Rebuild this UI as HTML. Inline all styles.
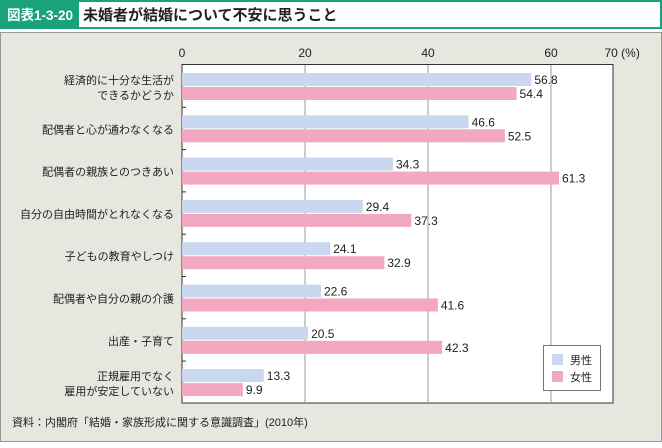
<!DOCTYPE html>
<html><head><meta charset="utf-8"><style>
body{margin:0;width:662px;height:443px;overflow:hidden;background:#fff;font-family:"Liberation Sans","Noto Sans CJK JP",sans-serif}
</style></head><body>
<svg width="662" height="443" xmlns="http://www.w3.org/2000/svg" font-family="Liberation Sans, Noto Sans CJK JP, sans-serif">
<rect x="1" y="1" width="660" height="27" fill="#fff" stroke="#1aa37a" stroke-width="2"/>
<rect x="0" y="0" width="79" height="29" fill="#1aa37a"/>
<text x="7" y="20" fill="#fff" font-size="14" font-weight="bold" textLength="66" lengthAdjust="spacingAndGlyphs">図表1-3-20</text>
<text x="83" y="20" fill="#222" font-size="15" font-weight="bold">未婚者が結婚について不安に思うこと</text>
<rect x="0.5" y="32.5" width="661" height="409" fill="#e7e6df" stroke="#999"/>
<rect x="182" y="64.5" width="431" height="338.5" fill="#fff" stroke="#333"/>
<g id="grid"></g>
<g id="bars"></g>
<g id="legend">
<rect x="543.5" y="345.5" width="57" height="45" fill="#fff" stroke="#777"/>
<rect x="552" y="354" width="11" height="11" fill="#c9d8ee"/>
<text x="570" y="364" font-size="11" fill="#222">男性</text>
<rect x="552" y="371" width="11" height="11" fill="#f2a8c1"/>
<text x="570" y="381" font-size="11" fill="#222">女性</text>
</g>
<text x="12" y="426" font-size="11" fill="#222">資料：内閣府「結婚・家族形成に関する意識調査」(2010年)</text>
</svg>
<script>
const categories=[["経済的に十分な生活が","できるかどうか"],["配偶者と心が通わなくなる"],["配偶者の親族とのつきあい"],["自分の自由時間がとれなくなる"],["子どもの教育やしつけ"],["配偶者や自分の親の介護"],["出産・子育て"],["正規雇用でなく","雇用が安定していない"]];
const maleValues=[56.8,46.6,34.3,29.4,24.1,22.6,20.5,13.3];
const femaleValues=[54.4,52.5,61.3,37.3,32.9,41.6,42.3,9.9];
const tickValues=[0,20,40,60,70];
const NS="http://www.w3.org/2000/svg";
const x0=182,pxPer=369/60,top0=65,rowH=42.3;
const xs=v=>x0+v*pxPer;
function mk(tag,attrs,parent){const e=document.createElementNS(NS,tag);for(const k in attrs)e.setAttribute(k,attrs[k]);parent.appendChild(e);return e;}
const svg=document.querySelector('svg'),grid=document.getElementById('grid'),bars=document.getElementById('bars');
tickValues.forEach(t=>{
 const x=xs(t);
 if(t>0&&t<70){const l=mk('line',{x1:x,x2:x,y1:65,y2:403,stroke:'#999','stroke-width':1},grid);
 
 }
 const tx=mk('text',{x:x,y:57,'font-size':12,'text-anchor':'middle',fill:'#222'},svg);
 tx.textContent=t==70?'70 (%)':String(t);
 if(t==70){tx.setAttribute('text-anchor','start');tx.setAttribute('x',x-8);}
 
 
});
categories.forEach((c,i)=>{
 const y=top0+8+i*rowH;
 if(i>0){const tk=mk('line',{x1:182,x2:186,y1:top0+i*rowH,y2:top0+i*rowH,stroke:'#333'},grid);
 
 }
 const m=mk('rect',{x:x0,y:y,width:xs(maleValues[i])-x0,height:13,fill:'#c9d8ee'},bars);
 
 
 const f=mk('rect',{x:x0,y:y+14,width:xs(femaleValues[i])-x0,height:13,fill:'#f2a8c1'},bars);
 
 
 const mv=mk('text',{x:xs(maleValues[i])+3,y:y+11,'font-size':12,fill:'#222'},svg);mv.textContent=maleValues[i].toFixed(1);
 
 
 const fv=mk('text',{x:xs(femaleValues[i])+3,y:y+25,'font-size':12,fill:'#222'},svg);fv.textContent=femaleValues[i].toFixed(1);
 
 
 const cy=y+14;
 c.forEach((ln,j)=>{
  const t=mk('text',{x:174,y:c.length==1?cy+4:cy-3+j*15,'font-size':11,'text-anchor':'end',fill:'#222'},svg);
  t.textContent=ln;
  
  
 });
});
</script>
</body></html>
